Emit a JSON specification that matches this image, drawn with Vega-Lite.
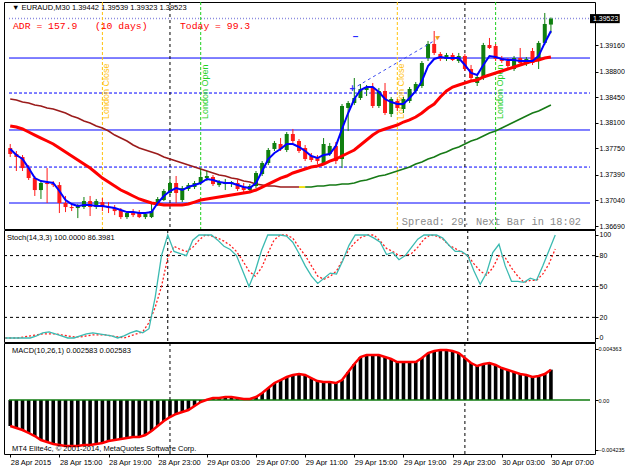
{
"$schema": "https://vega.github.io/schema/vega-lite/v6.json",
"padding": {"left": 2, "top": 1, "right": 0, "bottom": 0},
"background": "#ffffff",
"spacing": 1,
"bounds": "flush",
"resolve": {"scale": {"x": "independent", "y": "independent"}},
"datasets": {
"bars": [
{"i":0,"o":1.37756,"h":1.37811,"l":1.37633,"c":1.37674,"f":1.37743,"m":1.38057,"s":1.38425,"k":0,"d":0,"macd":-0.002213},
{"i":1,"o":1.37674,"h":1.37715,"l":1.37442,"c":1.37633,"f":1.37660,"m":1.38043,"s":1.38412,"k":0,"d":0,"macd":-0.002383},
{"i":2,"o":1.37633,"h":1.37660,"l":1.37442,"c":1.37482,"f":1.37606,"m":1.38016,"s":1.38384,"k":0,"d":0,"macd":-0.002553},
{"i":3,"o":1.37482,"h":1.37523,"l":1.37319,"c":1.37346,"f":1.37482,"m":1.37975,"s":1.38371,"k":0,"d":1,"macd":-0.002808},
{"i":4,"o":1.37346,"h":1.37374,"l":1.37101,"c":1.37182,"f":1.37346,"m":1.37933,"s":1.38343,"k":0,"d":2,"macd":-0.003064},
{"i":5,"o":1.37182,"h":1.37305,"l":1.37060,"c":1.37278,"f":1.37305,"m":1.37892,"s":1.38330,"k":2,"d":3,"macd":-0.003404},
{"i":6,"o":1.37278,"h":1.37482,"l":1.37005,"c":1.37264,"f":1.37291,"m":1.37852,"s":1.38302,"k":5,"d":4,"macd":-0.003574},
{"i":7,"o":1.37264,"h":1.37305,"l":1.37223,"c":1.37250,"f":1.37278,"m":1.37811,"s":1.38289,"k":6,"d":4,"macd":-0.003744},
{"i":8,"o":1.37250,"h":1.37291,"l":1.36868,"c":1.37005,"f":1.37169,"m":1.37756,"s":1.38261,"k":4,"d":4,"macd":-0.003830},
{"i":9,"o":1.37005,"h":1.37101,"l":1.36881,"c":1.36950,"f":1.37046,"m":1.37701,"s":1.38234,"k":2,"d":3,"macd":-0.003915},
{"i":10,"o":1.36950,"h":1.36991,"l":1.36895,"c":1.36936,"f":1.36991,"m":1.37647,"s":1.38193,"k":0,"d":2,"macd":-0.003915},
{"i":11,"o":1.36936,"h":1.36991,"l":1.36799,"c":1.36977,"f":1.36964,"m":1.37592,"s":1.38166,"k":0,"d":1,"macd":-0.003915},
{"i":12,"o":1.36950,"h":1.37087,"l":1.36923,"c":1.37032,"f":1.36977,"m":1.37537,"s":1.38125,"k":2,"d":1,"macd":-0.003830},
{"i":13,"o":1.37032,"h":1.37101,"l":1.36827,"c":1.36950,"f":1.36977,"m":1.37482,"s":1.38098,"k":4,"d":2,"macd":-0.003830},
{"i":14,"o":1.36950,"h":1.37060,"l":1.36923,"c":1.37032,"f":1.36964,"m":1.37415,"s":1.38057,"k":5,"d":3,"macd":-0.003744},
{"i":15,"o":1.37018,"h":1.37073,"l":1.36895,"c":1.36950,"f":1.36964,"m":1.37346,"s":1.38029,"k":4,"d":3,"macd":-0.003659},
{"i":16,"o":1.36950,"h":1.37018,"l":1.36868,"c":1.36936,"f":1.36950,"m":1.37291,"s":1.37988,"k":3,"d":3,"macd":-0.003489},
{"i":17,"o":1.36936,"h":1.36977,"l":1.36840,"c":1.36895,"f":1.36936,"m":1.37237,"s":1.37933,"k":2,"d":2,"macd":-0.003404},
{"i":18,"o":1.36909,"h":1.36936,"l":1.36786,"c":1.36813,"f":1.36909,"m":1.37182,"s":1.37892,"k":0,"d":1,"macd":-0.003319},
{"i":19,"o":1.36813,"h":1.36895,"l":1.36786,"c":1.36868,"f":1.36881,"m":1.37142,"s":1.37852,"k":2,"d":0,"macd":-0.003234},
{"i":20,"o":1.36868,"h":1.36923,"l":1.36813,"c":1.36840,"f":1.36881,"m":1.37101,"s":1.37797,"k":5,"d":2,"macd":-0.003149},
{"i":21,"o":1.36881,"h":1.36909,"l":1.36799,"c":1.36813,"f":1.36868,"m":1.37060,"s":1.37756,"k":7,"d":4,"macd":-0.003149},
{"i":22,"o":1.36813,"h":1.36868,"l":1.36786,"c":1.36854,"f":1.36868,"m":1.37032,"s":1.37729,"k":5,"d":6,"macd":-0.002979},
{"i":23,"o":1.36813,"h":1.36991,"l":1.36799,"c":1.36895,"f":1.36881,"m":1.37005,"s":1.37701,"k":9,"d":15,"macd":-0.002638},
{"i":24,"o":1.36991,"h":1.37087,"l":1.36964,"c":1.37060,"f":1.37005,"m":1.36991,"s":1.37674,"k":40,"d":30,"macd":-0.002213},
{"i":25,"o":1.37046,"h":1.37196,"l":1.37032,"c":1.37169,"f":1.37101,"m":1.36977,"s":1.37633,"k":80,"d":50,"macd":-0.001787},
{"i":26,"o":1.37142,"h":1.37333,"l":1.37114,"c":1.37278,"f":1.37169,"m":1.36977,"s":1.37606,"k":100,"d":78,"macd":-0.001447},
{"i":27,"o":1.37278,"h":1.37374,"l":1.37005,"c":1.37142,"f":1.37209,"m":1.36977,"s":1.37578,"k":84,"d":89,"macd":-0.001191},
{"i":28,"o":1.37046,"h":1.37237,"l":1.37018,"c":1.37209,"f":1.37182,"m":1.36977,"s":1.37551,"k":82,"d":86,"macd":-0.001021},
{"i":29,"o":1.37196,"h":1.37278,"l":1.37169,"c":1.37250,"f":1.37223,"m":1.36991,"s":1.37523,"k":80,"d":84,"macd":-0.000851},
{"i":30,"o":1.37223,"h":1.37305,"l":1.37196,"c":1.37278,"f":1.37250,"m":1.37018,"s":1.37496,"k":95,"d":88,"macd":-0.000511},
{"i":31,"o":1.37278,"h":1.37469,"l":1.37250,"c":1.37360,"f":1.37278,"m":1.37046,"s":1.37469,"k":100,"d":95,"macd":-0.000170},
{"i":32,"o":1.37346,"h":1.37442,"l":1.37305,"c":1.37374,"f":1.37333,"m":1.37060,"s":1.37442,"k":100,"d":100,"macd":0.000020},
{"i":33,"o":1.37360,"h":1.37387,"l":1.37237,"c":1.37264,"f":1.37319,"m":1.37073,"s":1.37415,"k":100,"d":99,"macd":0.000170},
{"i":34,"o":1.37250,"h":1.37319,"l":1.37223,"c":1.37291,"f":1.37291,"m":1.37087,"s":1.37387,"k":95,"d":97,"macd":0.000170},
{"i":35,"o":1.37264,"h":1.37333,"l":1.37182,"c":1.37291,"f":1.37278,"m":1.37101,"s":1.37374,"k":89,"d":94,"macd":0.000255},
{"i":36,"o":1.37264,"h":1.37305,"l":1.37223,"c":1.37291,"f":1.37278,"m":1.37114,"s":1.37346,"k":86,"d":90,"macd":0.000255},
{"i":37,"o":1.37278,"h":1.37333,"l":1.37169,"c":1.37196,"f":1.37250,"m":1.37128,"s":1.37333,"k":80,"d":84,"macd":0.000170},
{"i":38,"o":1.37223,"h":1.37278,"l":1.37155,"c":1.37182,"f":1.37223,"m":1.37142,"s":1.37305,"k":65,"d":75,"macd":0.000085},
{"i":39,"o":1.37182,"h":1.37264,"l":1.37155,"c":1.37237,"f":1.37209,"m":1.37155,"s":1.37291,"k":50,"d":65,"macd":0.000085},
{"i":40,"o":1.37237,"h":1.37442,"l":1.37209,"c":1.37415,"f":1.37278,"m":1.37182,"s":1.37264,"k":65,"d":60,"macd":0.000255},
{"i":41,"o":1.37401,"h":1.37578,"l":1.37374,"c":1.37551,"f":1.37442,"m":1.37223,"s":1.37250,"k":85,"d":68,"macd":0.000596},
{"i":42,"o":1.37551,"h":1.37756,"l":1.37523,"c":1.37729,"f":1.37606,"m":1.37264,"s":1.37237,"k":100,"d":82,"macd":0.001021},
{"i":43,"o":1.37743,"h":1.37852,"l":1.37715,"c":1.37825,"f":1.37688,"m":1.37305,"s":1.37237,"k":100,"d":95,"macd":0.001447},
{"i":44,"o":1.37811,"h":1.37892,"l":1.37715,"c":1.37743,"f":1.37743,"m":1.37346,"s":1.37223,"k":100,"d":100,"macd":0.001702},
{"i":45,"o":1.37729,"h":1.37974,"l":1.37701,"c":1.37947,"f":1.37811,"m":1.37374,"s":1.37223,"k":99,"d":100,"macd":0.001957},
{"i":46,"o":1.37947,"h":1.38016,"l":1.37825,"c":1.37852,"f":1.37811,"m":1.37415,"s":1.37223,"k":93,"d":97,"macd":0.002128},
{"i":47,"o":1.37852,"h":1.37879,"l":1.37688,"c":1.37715,"f":1.37770,"m":1.37442,"s":1.37223,"k":82,"d":88,"macd":0.002213},
{"i":48,"o":1.37756,"h":1.37797,"l":1.37578,"c":1.37606,"f":1.37715,"m":1.37469,"s":1.37223,"k":70,"d":80,"macd":0.002128},
{"i":49,"o":1.37647,"h":1.37688,"l":1.37564,"c":1.37592,"f":1.37647,"m":1.37496,"s":1.37223,"k":60,"d":70,"macd":0.001872},
{"i":50,"o":1.37619,"h":1.37660,"l":1.37537,"c":1.37578,"f":1.37619,"m":1.37510,"s":1.37237,"k":53,"d":60,"macd":0.001617},
{"i":51,"o":1.37551,"h":1.37892,"l":1.37523,"c":1.37811,"f":1.37660,"m":1.37537,"s":1.37237,"k":58,"d":57,"macd":0.001532},
{"i":52,"o":1.37674,"h":1.37825,"l":1.37647,"c":1.37784,"f":1.37674,"m":1.37578,"s":1.37250,"k":63,"d":60,"macd":0.001532},
{"i":53,"o":1.37784,"h":1.37838,"l":1.37537,"c":1.37578,"f":1.37784,"m":1.37606,"s":1.37250,"k":62,"d":65,"macd":0.001447},
{"i":54,"o":1.37606,"h":1.38357,"l":1.37482,"c":1.38330,"f":1.38016,"m":1.37647,"s":1.37264,"k":75,"d":76,"macd":0.001702},
{"i":55,"o":1.38302,"h":1.38398,"l":1.37988,"c":1.38371,"f":1.38234,"m":1.37688,"s":1.37264,"k":90,"d":86,"macd":0.002383},
{"i":56,"o":1.38371,"h":1.38712,"l":1.38343,"c":1.38439,"f":1.38425,"m":1.37729,"s":1.37278,"k":100,"d":93,"macd":0.003064},
{"i":57,"o":1.38439,"h":1.38630,"l":1.38412,"c":1.38562,"f":1.38548,"m":1.37797,"s":1.37305,"k":100,"d":98,"macd":0.003659},
{"i":58,"o":1.38548,"h":1.38617,"l":1.38466,"c":1.38576,"f":1.38589,"m":1.37865,"s":1.37319,"k":100,"d":100,"macd":0.003830},
{"i":59,"o":1.38576,"h":1.38644,"l":1.38302,"c":1.38330,"f":1.38589,"m":1.37933,"s":1.37346,"k":97,"d":100,"macd":0.003830},
{"i":60,"o":1.38330,"h":1.38576,"l":1.38302,"c":1.38535,"f":1.38521,"m":1.37988,"s":1.37374,"k":93,"d":94,"macd":0.003830},
{"i":61,"o":1.38535,"h":1.38644,"l":1.38207,"c":1.38234,"f":1.38425,"m":1.38016,"s":1.37387,"k":81,"d":87,"macd":0.003659},
{"i":62,"o":1.38220,"h":1.38453,"l":1.38179,"c":1.38425,"f":1.38384,"m":1.38043,"s":1.37415,"k":83,"d":84,"macd":0.003489},
{"i":63,"o":1.38398,"h":1.38425,"l":1.38261,"c":1.38302,"f":1.38357,"m":1.38070,"s":1.37442,"k":76,"d":80,"macd":0.003234},
{"i":64,"o":1.38289,"h":1.38453,"l":1.38234,"c":1.38425,"f":1.38357,"m":1.38111,"s":1.37469,"k":80,"d":80,"macd":0.003234},
{"i":65,"o":1.38398,"h":1.38589,"l":1.38371,"c":1.38562,"f":1.38439,"m":1.38139,"s":1.37496,"k":88,"d":82,"macd":0.003234},
{"i":66,"o":1.38535,"h":1.38657,"l":1.38508,"c":1.38630,"f":1.38535,"m":1.38179,"s":1.37537,"k":96,"d":88,"macd":0.003234},
{"i":67,"o":1.38603,"h":1.38944,"l":1.38576,"c":1.38917,"f":1.38671,"m":1.38234,"s":1.37564,"k":100,"d":96,"macd":0.003574},
{"i":68,"o":1.38985,"h":1.39218,"l":1.38944,"c":1.39177,"f":1.38876,"m":1.38302,"s":1.37606,"k":100,"d":100,"macd":0.004000},
{"i":69,"o":1.39177,"h":1.39354,"l":1.39026,"c":1.39054,"f":1.38972,"m":1.38357,"s":1.37633,"k":100,"d":99,"macd":0.004170},
{"i":70,"o":1.39040,"h":1.39067,"l":1.38944,"c":1.38972,"f":1.38999,"m":1.38453,"s":1.37674,"k":97,"d":96,"macd":0.004255},
{"i":71,"o":1.38972,"h":1.39054,"l":1.38944,"c":1.39026,"f":1.38985,"m":1.38535,"s":1.37701,"k":90,"d":90,"macd":0.004255},
{"i":72,"o":1.39026,"h":1.39054,"l":1.38944,"c":1.38958,"f":1.38985,"m":1.38589,"s":1.37743,"k":84,"d":87,"macd":0.004170},
{"i":73,"o":1.38944,"h":1.39054,"l":1.38917,"c":1.39013,"f":1.38985,"m":1.38617,"s":1.37770,"k":84,"d":83,"macd":0.004000},
{"i":74,"o":1.39013,"h":1.39040,"l":1.38808,"c":1.38835,"f":1.38890,"m":1.38644,"s":1.37811,"k":80,"d":80,"macd":0.003574},
{"i":75,"o":1.38835,"h":1.38890,"l":1.38671,"c":1.38712,"f":1.38781,"m":1.38671,"s":1.37852,"k":65,"d":72,"macd":0.003149},
{"i":76,"o":1.38644,"h":1.38753,"l":1.38603,"c":1.38726,"f":1.38753,"m":1.38685,"s":1.37879,"k":52,"d":65,"macd":0.002893},
{"i":77,"o":1.38712,"h":1.39191,"l":1.38685,"c":1.39163,"f":1.38890,"m":1.38726,"s":1.37920,"k":63,"d":61,"macd":0.003064},
{"i":78,"o":1.39163,"h":1.39259,"l":1.39109,"c":1.39122,"f":1.39013,"m":1.38753,"s":1.37961,"k":83,"d":68,"macd":0.003149},
{"i":79,"o":1.39149,"h":1.39177,"l":1.38944,"c":1.38972,"f":1.38999,"m":1.38781,"s":1.37988,"k":91,"d":80,"macd":0.002979},
{"i":80,"o":1.38985,"h":1.39013,"l":1.38917,"c":1.38944,"f":1.38972,"m":1.38808,"s":1.38029,"k":70,"d":78,"macd":0.002723},
{"i":81,"o":1.38944,"h":1.38985,"l":1.38849,"c":1.38876,"f":1.38958,"m":1.38835,"s":1.38070,"k":55,"d":68,"macd":0.002553},
{"i":82,"o":1.38835,"h":1.39013,"l":1.38808,"c":1.38985,"f":1.38958,"m":1.38862,"s":1.38111,"k":55,"d":60,"macd":0.002383},
{"i":83,"o":1.38985,"h":1.39122,"l":1.38890,"c":1.38917,"f":1.38944,"m":1.38890,"s":1.38152,"k":54,"d":54,"macd":0.002213},
{"i":84,"o":1.38903,"h":1.38999,"l":1.38876,"c":1.38972,"f":1.38944,"m":1.38917,"s":1.38193,"k":58,"d":56,"macd":0.002128},
{"i":85,"o":1.39081,"h":1.39122,"l":1.38890,"c":1.38917,"f":1.38944,"m":1.38944,"s":1.38234,"k":56,"d":56,"macd":0.001957},
{"i":86,"o":1.38972,"h":1.39218,"l":1.38835,"c":1.39191,"f":1.39013,"m":1.38958,"s":1.38261,"k":70,"d":62,"macd":0.002042},
{"i":87,"o":1.39191,"h":1.39600,"l":1.39163,"c":1.39450,"f":1.39191,"m":1.38985,"s":1.38302,"k":85,"d":72,"macd":0.002213},
{"i":88,"o":1.39442,"h":1.39539,"l":1.39323,"c":1.39523,"f":1.39354,"m":1.38999,"s":1.38343,"k":100,"d":86.3981,"macd":0.002583}
],
"days": [{"i": 26}, {"i": 74}],
"sessions": [{"i": 15, "kind": "London Close"}, {"i": 63, "kind": "London Close"}, {"i": 31, "kind": "London Open"}, {"i": 79, "kind": "London Open"}]
},
"vconcat": [
{
"width": 591, "height": 227,
"layer": [
{"data": {"values": [{"p": 1.38985}, {"p": 1.38002}, {"p": 1.37005}]},
 "mark": {"type": "rule", "color": "#0000ff", "strokeWidth": 1},
 "encoding": {
  "x": {"datum": -0.2, "type": "quantitative", "scale": {"domain": [-0.2, 94.36], "nice": false, "zero": false}, "axis": null},
  "x2": {"datum": 94.36},
  "y": {"field": "p", "type": "quantitative", "scale": {"domain": [1.3665, 1.3975], "nice": false, "zero": false},
   "axis": {"orient": "right", "values": [1.3669, 1.3704, 1.3739, 1.3775, 1.381, 1.3845, 1.388, 1.3916], "tickCount": 50, "format": ".5f", "title": null, "tickSize": 3, "labelAlign": "left", "labelPadding": 1, "labelOverlap": false, "labelBound": false, "labelFlush": false, "domain": false, "grid": false, "labelFontSize": 7, "labelFont": "Liberation Sans", "labelColor": "#000000", "tickColor": "#000000"}}}},
{"data": {"values": [{"p": 1.38507}, {"p": 1.37496}]},
 "mark": {"type": "rule", "color": "#0000ff", "strokeWidth": 1, "strokeDash": [3, 2]},
 "encoding": {"x": {"datum": -0.2, "type": "quantitative", "axis": null}, "x2": {"datum": 94.36}, "y": {"field": "p", "type": "quantitative"}}},
{"data": {"values": [{"p": 1.39523}]},
 "mark": {"type": "rule", "color": "#8c8ce0", "strokeWidth": 1.5, "strokeDash": [1, 2]},
 "encoding": {"x": {"datum": -0.2, "type": "quantitative", "axis": null}, "x2": {"datum": 94.36}, "y": {"field": "p", "type": "quantitative"}}},
{"data": {"name": "sessions"},
 "mark": {"type": "rule", "strokeWidth": 1, "strokeDash": [3, 2]},
 "encoding": {"x": {"field": "i", "type": "quantitative", "axis": null},
  "color": {"field": "kind", "type": "nominal", "scale": {"domain": ["London Close", "London Open"], "range": ["#ffc20e", "#1fd11f"]}, "legend": null}}},
{"data": {"name": "days"},
 "mark": {"type": "rule", "color": "#000000", "strokeWidth": 1, "strokeDash": [3, 3]},
 "encoding": {"x": {"field": "i", "type": "quantitative", "axis": null}}},
{"data": {"name": "sessions"},
 "mark": {"type": "text", "angle": 270, "align": "left", "baseline": "top", "dy": 0, "fontSize": 9, "font": "Liberation Sans"},
 "encoding": {"x": {"field": "i", "type": "quantitative", "axis": null}, "y": {"datum": 1.38152, "type": "quantitative"}, "text": {"field": "kind"},
  "color": {"field": "kind", "type": "nominal", "legend": null}}},
{"data": {"name": "bars"}, "transform": [{"filter": "datum.i <= 47"}],
 "mark": {"type": "line", "color": "#9b1b1b", "strokeWidth": 1.6},
 "encoding": {"x": {"field": "i", "type": "quantitative", "axis": null}, "y": {"field": "s", "type": "quantitative"}}},
{"data": {"name": "bars"}, "transform": [{"filter": "datum.i >= 47 && datum.i <= 48"}],
 "mark": {"type": "line", "color": "#f0dc00", "strokeWidth": 1.8},
 "encoding": {"x": {"field": "i", "type": "quantitative", "axis": null}, "y": {"field": "s", "type": "quantitative"}}},
{"data": {"name": "bars"}, "transform": [{"filter": "datum.i >= 48"}],
 "mark": {"type": "line", "color": "#167a16", "strokeWidth": 1.6},
 "encoding": {"x": {"field": "i", "type": "quantitative", "axis": null}, "y": {"field": "s", "type": "quantitative"}}},
{"data": {"name": "bars"},
 "mark": {"type": "rule", "strokeWidth": 1},
 "encoding": {"x": {"field": "i", "type": "quantitative", "axis": null}, "y": {"field": "l", "type": "quantitative"}, "y2": {"field": "h"},
  "color": {"condition": {"test": "datum.c >= datum.o", "value": "#0f7f0f"}, "value": "#ff1a1a"}}},
{"data": {"name": "bars"},
 "mark": {"type": "bar", "size": 4},
 "encoding": {"x": {"field": "i", "type": "quantitative", "axis": null}, "y": {"field": "o", "type": "quantitative"}, "y2": {"field": "c"},
  "color": {"condition": {"test": "datum.c >= datum.o", "value": "#0f7f0f"}, "value": "#ff1a1a"}}},
{"data": {"name": "bars"},
 "mark": {"type": "line", "color": "#ff0000", "strokeWidth": 3},
 "encoding": {"x": {"field": "i", "type": "quantitative", "axis": null}, "y": {"field": "m", "type": "quantitative"}}},
{"data": {"name": "bars"},
 "mark": {"type": "line", "color": "#0000ff", "strokeWidth": 2},
 "encoding": {"x": {"field": "i", "type": "quantitative", "axis": null}, "y": {"field": "f", "type": "quantitative"}}},
{"data": {"values": [{"i": 55.7, "p": 1.38562}, {"i": 69.2, "p": 1.3923}]},
 "mark": {"type": "line", "color": "#3a4af0", "strokeWidth": 1, "strokeDash": [3, 3]},
 "encoding": {"x": {"field": "i", "type": "quantitative", "axis": null}, "y": {"field": "p", "type": "quantitative"}}},
{"data": {"values": [{"i": 55.7, "p": 1.38562, "t": "+"}, {"i": 56.2, "p": 1.39272, "t": "\u2013"}]},
 "mark": {"type": "text", "color": "#2a2aff", "fontSize": 10, "fontWeight": "bold", "font": "Liberation Sans"},
 "encoding": {"x": {"field": "i", "type": "quantitative", "axis": null}, "y": {"field": "p", "type": "quantitative"}, "text": {"field": "t"}}},
{"data": {"values": [{"i": 69.6, "p": 1.3928, "t": "\u25b8"}]},
 "mark": {"type": "text", "color": "#f0a020", "fontSize": 9, "font": "DejaVu Sans", "angle": 330},
 "encoding": {"x": {"field": "i", "type": "quantitative", "axis": null}, "y": {"field": "p", "type": "quantitative"}, "text": {"field": "t"}}},
{"data": {"values": [{"t": "\u25bc EURAUD,M30  1.39442 1.39539 1.39323 1.39523"}]},
 "mark": {"type": "text", "align": "left", "baseline": "top", "dx": 3, "dy": 2, "fontSize": 7.5, "color": "#000000", "font": "Liberation Sans"},
 "encoding": {"x": {"datum": -0.2, "type": "quantitative", "axis": null}, "y": {"datum": 1.3975, "type": "quantitative"}, "text": {"field": "t"}}},
{"data": {"values": [{"t": "ADR = 157.9\u00a0\u00a0\u00a0(10 days)"}]},
 "mark": {"type": "text", "align": "left", "baseline": "middle", "dx": 4, "fontSize": 9.75, "color": "#ff0000", "font": "Liberation Mono"},
 "encoding": {"x": {"datum": -0.2, "type": "quantitative", "axis": null}, "y": {"datum": 1.39423, "type": "quantitative"}, "text": {"field": "t"}}},
{"data": {"values": [{"t": "Today = 99.3"}]},
 "mark": {"type": "text", "align": "left", "baseline": "middle", "fontSize": 9.75, "color": "#ff0000", "font": "Liberation Mono"},
 "encoding": {"x": {"datum": 27.63, "type": "quantitative", "axis": null}, "y": {"datum": 1.39423, "type": "quantitative"}, "text": {"field": "t"}}},
{"data": {"values": [{"t": "Spread: 29. Next Bar in 18:02"}]},
 "mark": {"type": "text", "align": "right", "baseline": "middle", "dx": -9, "fontSize": 10.3, "color": "#8a8a8a", "font": "Liberation Mono"},
 "encoding": {"x": {"datum": 94.36, "type": "quantitative", "axis": null}, "y": {"datum": 1.36749, "type": "quantitative"}, "text": {"field": "t"}}},
{"data": {"values": [{"p": 1.39523}]},
 "mark": {"type": "rect", "color": "#000000", "clip": false},
 "encoding": {"x": {"datum": 94.36, "type": "quantitative", "axis": null}, "x2": {"datum": 99.2}, "y": {"datum": 1.39585, "type": "quantitative"}, "y2": {"datum": 1.39461}}},
{"data": {"values": [{"t": "1.39523"}]},
 "mark": {"type": "text", "align": "left", "baseline": "middle", "dx": 3, "fontSize": 7, "color": "#ffffff", "font": "Liberation Sans", "clip": false},
 "encoding": {"x": {"datum": 94.36, "type": "quantitative", "axis": null}, "y": {"datum": 1.39523, "type": "quantitative"}, "text": {"field": "t"}}}
]
},
{
"width": 591, "height": 112,
"layer": [
{"data": {"values": [{"v": 20}, {"v": 50}, {"v": 80}]},
 "mark": {"type": "rule", "color": "#000000", "strokeWidth": 1, "strokeDash": [3, 3]},
 "encoding": {
  "x": {"datum": -0.2, "type": "quantitative", "scale": {"domain": [-0.2, 94.36], "nice": false, "zero": false}, "axis": null},
  "x2": {"datum": 94.36},
  "y": {"field": "v", "type": "quantitative", "scale": {"domain": [-3.9, 104.85], "nice": false, "zero": false},
   "axis": {"orient": "right", "values": [0, 20, 50, 80, 100], "tickCount": 50, "title": null, "tickSize": 3, "labelAlign": "left", "labelPadding": 1, "labelOverlap": false, "labelBound": false, "labelFlush": false, "domain": false, "grid": false, "labelFontSize": 7, "labelFont": "Liberation Sans", "labelColor": "#000000", "tickColor": "#000000"}}}},
{"data": {"name": "days"},
 "mark": {"type": "rule", "color": "#000000", "strokeWidth": 1, "strokeDash": [3, 3]},
 "encoding": {"x": {"field": "i", "type": "quantitative", "axis": null}}},
{"data": {"name": "bars"},
 "mark": {"type": "line", "color": "#ff2020", "strokeWidth": 1.3, "strokeDash": [2, 2]},
 "encoding": {"x": {"field": "i", "type": "quantitative", "axis": null}, "y": {"field": "d", "type": "quantitative"}}},
{"data": {"name": "bars"},
 "mark": {"type": "line", "color": "#3bbab1", "strokeWidth": 1.3},
 "encoding": {"x": {"field": "i", "type": "quantitative", "axis": null}, "y": {"field": "k", "type": "quantitative"}}},
{"data": {"values": [{"t": "Stoch(14,3,3) 100.0000 86.3981"}]},
 "mark": {"type": "text", "align": "left", "baseline": "middle", "dx": 3, "fontSize": 7.5, "color": "#000000", "font": "Liberation Sans"},
 "encoding": {"x": {"datum": -0.2, "type": "quantitative", "axis": null}, "y": {"datum": 97, "type": "quantitative"}, "text": {"field": "t"}}}
]
},
{
"width": 591, "height": 111,
"layer": [
{"data": {"name": "bars"},
 "mark": {"type": "bar", "size": 3.6, "color": "#000000"},
 "encoding": {
  "x": {"field": "i", "type": "quantitative", "scale": {"domain": [-0.2, 94.36], "nice": false, "zero": false},
   "axis": {"orient": "bottom", "values": [0, 8, 16, 24, 32, 40, 48, 56, 64, 72, 80, 88], "tickCount": 50, "title": null,
    "labelExpr": "['28 Apr 2015','28 Apr 15:00','28 Apr 19:00','28 Apr 23:00','29 Apr 03:00','29 Apr 07:00','29 Apr 11:00','29 Apr 15:00','29 Apr 19:00','29 Apr 23:00','30 Apr 03:00','30 Apr 07:00'][round(datum.value / 8)]",
    "labelAlign": "left", "labelBaseline": "top", "labelFlush": false, "labelOverlap": false, "labelBound": false, "tickSize": 3, "labelPadding": 1, "domain": false, "grid": false, "labelFontSize": 7.5, "labelFont": "Liberation Sans", "labelColor": "#000000", "tickColor": "#000000"}},
  "y": {"field": "macd", "type": "quantitative", "scale": {"domain": [-0.004595, 0.004851], "nice": false, "zero": false},
   "axis": {"orient": "right", "values": [0.004363, 0, -0.004235], "tickCount": 50, "title": null, "labelExpr": "datum.value == 0 ? '0.00' : format(datum.value, '.6f')", "tickSize": 3, "labelAlign": "left", "labelPadding": 0, "labelOverlap": false, "labelBound": false, "labelFlush": false, "domain": false, "grid": false, "labelFontSize": 5.5, "labelFont": "Liberation Sans", "labelColor": "#000000", "tickColor": "#000000"}},
  "y2": {"datum": 0}}},
{"data": {"values": [{"v": 0}]},
 "mark": {"type": "rule", "color": "#0e7a0e", "strokeWidth": 1.5},
 "encoding": {"x": {"datum": -0.2, "type": "quantitative"}, "x2": {"datum": 94.36}, "y": {"field": "v", "type": "quantitative"}}},
{"data": {"name": "days"},
 "mark": {"type": "rule", "color": "#000000", "strokeWidth": 1, "strokeDash": [3, 3]},
 "encoding": {"x": {"field": "i", "type": "quantitative"}}},
{"data": {"name": "bars"},
 "mark": {"type": "line", "color": "#ff0000", "strokeWidth": 2.5},
 "encoding": {"x": {"field": "i", "type": "quantitative"}, "y": {"field": "macd", "type": "quantitative"}}},
{"data": {"values": [{"t": "MACD(10,26,1) 0.002583 0.002583"}]},
 "mark": {"type": "text", "align": "left", "baseline": "middle", "dx": 3, "fontSize": 7.5, "color": "#000000", "font": "Liberation Sans"},
 "encoding": {"x": {"datum": -0.2, "type": "quantitative"}, "y": {"datum": 0.00417, "type": "quantitative"}, "text": {"field": "t"}}},
{"data": {"values": [{"t": "MT4 Elite4c, \u00a9 2001-2014, MetaQuotes Software Corp."}]},
 "mark": {"type": "text", "align": "left", "baseline": "middle", "dx": 3, "fontSize": 7.5, "color": "#000000", "font": "Liberation Sans"},
 "encoding": {"x": {"datum": -0.2, "type": "quantitative"}, "y": {"datum": -0.00414, "type": "quantitative"}, "text": {"field": "t"}}}
]
}
],
"config": {
 "view": {"stroke": "#000000", "strokeWidth": 1},
 "axis": {"labelFont": "Liberation Sans", "labelFontSize": 7.5, "labelColor": "#000000", "tickColor": "#000000", "labelOverlap": false, "grid": false}
}
}
